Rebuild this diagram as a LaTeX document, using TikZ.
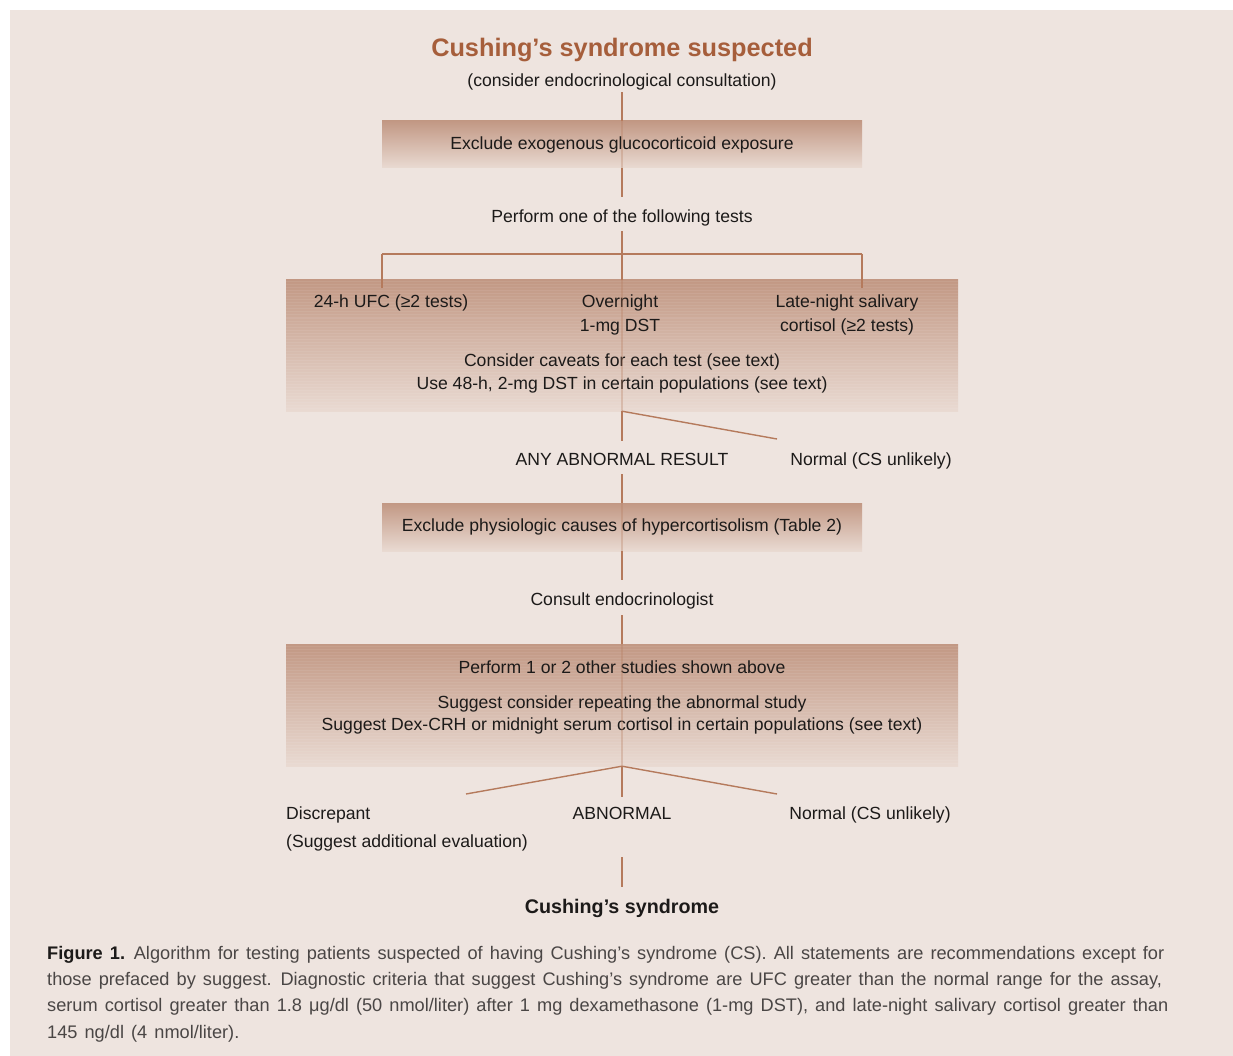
\documentclass[tikz,border=0pt]{standalone}
\usepackage{fontspec}
\setmainfont{Liberation Sans}
\newfontfamily\capfont{Liberation Sans}[WordSpace=1.4]
\definecolor{bg}{HTML}{EEE4DF}
\definecolor{ln}{HTML}{B57A5C}
\definecolor{ttl}{HTML}{A65E3B}
\definecolor{boxtop}{HTML}{C29884}
\definecolor{boxbot}{HTML}{E9DAD2}
\definecolor{txt}{HTML}{1C1A19}
\definecolor{capc}{HTML}{4A4645}
\tikzset{
  lbl/.style={font=\fontsize{17.6}{23}\selectfont, text=txt, inner sep=0pt, align=center},
  gbox/.style={top color=boxtop, bottom color=boxbot, draw=none, inner sep=0pt},
  conn/.style={draw=ln, line width=1.4pt},
  thru/.style={draw=ln, line width=1.2pt, opacity=0.3},
  stripe/.style={draw=white, line width=1pt, opacity=0.07},
}
\begin{document}
\begin{tikzpicture}[x=1pt,y=-1pt]
\useasboundingbox (0,0) rectangle (1233,1056);
\fill[white] (0,0) rectangle (1233,1056);
\fill[bg] (10,10) rectangle (1233,1056);

% boxes
\node[gbox, minimum width=480pt, minimum height=47pt] (b1) at (622,144.5) {};
\node[gbox, minimum width=672pt, minimum height=131pt] (b2) at (622,345.5) {};
\node[gbox, minimum width=480pt, minimum height=48pt] (b3) at (622,527) {};
\node[gbox, minimum width=672pt, minimum height=122pt] (b4) at (622,705) {};
\foreach \yy in {282,285,...,408} {\draw[stripe] (b2.west |- 0,\yy) -- (b2.east |- 0,\yy);}
\foreach \yy in {646,649,...,764} {\draw[stripe] (b4.west |- 0,\yy) -- (b4.east |- 0,\yy);}

% texts
\node[font=\bfseries\fontsize{25.3}{30}\selectfont, text=ttl, inner sep=0pt] (title) at (622,50) {Cushing’s syndrome suspected};
\node[lbl] (sub) at (622,82) {(consider endocrinological consultation)};
\node[lbl] (b1t) at (622,145) {Exclude exogenous glucocorticoid exposure};
\node[lbl] (perf) at (622,218) {Perform one of the following tests};
\node[lbl] (ufc) at (391,303) {24-h UFC (≥2 tests)};
\node[lbl, font=\fontsize{17.6}{24}\selectfont] (dst) at (620,315) {Overnight\\1-mg DST};
\node[lbl, font=\fontsize{17.6}{24}\selectfont] (sal) at (847,315) {Late-night salivary\\cortisol (≥2 tests)};
\node[lbl] (cav) at (622,373.5) {Consider caveats for each test (see text)\\Use 48-h, 2-mg DST in certain populations (see text)};
\node[lbl] (any) at (622,459) {ANY ABNORMAL RESULT};
\node[lbl] (norm1) at (871,461) {Normal (CS unlikely)};
\node[lbl] (b3t) at (622,527) {Exclude physiologic causes of hypercortisolism (Table 2)};
\node[lbl] (cons) at (622,601) {Consult endocrinologist};
\node[lbl] (b4a) at (622,667) {Perform 1 or 2 other studies shown above};
\node[lbl, font=\fontsize{17.6}{22}\selectfont] (b4b) at (622,715) {Suggest consider repeating the abnormal study\\Suggest Dex-CRH or midnight serum cortisol in certain populations (see text)};
\node[lbl, align=left, anchor=west, font=\fontsize{17.6}{28}\selectfont] (disc) at (286,829) {Discrepant\\(Suggest additional evaluation)};
\node[lbl] (abn) at (622,813) {ABNORMAL};
\node[lbl] (norm2) at (870,815) {Normal (CS unlikely)};
\node[font=\bfseries\fontsize{19.7}{24}\selectfont, text=txt, inner sep=0pt] (cs) at (622,908) {Cushing’s syndrome};

% connector coordinates
\coordinate (jl) at (382,254);
\coordinate (jr) at (862,254);
\coordinate (dl) at (382,288);
\coordinate (dr) at (862,288);
\coordinate (n1) at (777,439);
\coordinate (p4) at (466,794);
\coordinate (q4) at (777,794);

% connectors
\draw[conn, shorten <=2pt] (sub.south) -- (b1.north);
\draw[thru] (b1.north) -- (b1.south);
\draw[conn, shorten >=13pt] (b1.south) -- (perf.north);
\draw[conn, shorten <=5pt] (perf.south) -- (b2.north);
\draw[conn] (jl) -- (jr);
\draw[conn] (jl) -- (dl);
\draw[conn] (jr) -- (dr);
\draw[thru] (b2.north) -- (b2.south);
\draw[conn, shorten >=12pt] (b2.south) -- (any.north);
\draw[conn] (b2.south) -- (n1);
\draw[conn, shorten <=9pt] (any.south) -- (b3.north);
\draw[thru] (b3.north) -- (b3.south);
\draw[conn, shorten >=13pt] (b3.south) -- (cons.north);
\draw[conn, shorten <=6pt] (cons.south) -- (b4.north);
\draw[thru] (b4.north) -- (b4.south);
\draw[conn, shorten >=10pt] (b4.south) -- (abn.north);
\draw[conn] (b4.south) -- (p4);
\draw[conn] (b4.south) -- (q4);
\draw[conn, shorten <=38pt, shorten >=12pt] (abn.south) -- (cs.north);

% caption
\node[anchor=north west, inner sep=0pt, align=left, text=capc, font=\capfont\fontsize{18.2}{26.3}\selectfont] (caption) at (47,946)
{{\bfseries\color{txt}Figure 1.} Algorithm for testing patients suspected of having Cushing’s syndrome (CS). All statements are recommendations except for\\
those prefaced by suggest. Diagnostic criteria that suggest Cushing’s syndrome are UFC greater than the normal range for the assay,\\
serum cortisol greater than 1.8 μg/dl (50 nmol/liter) after 1 mg dexamethasone (1-mg DST), and late-night salivary cortisol greater than\\
145 ng/dl (4 nmol/liter).};
\end{tikzpicture}
\end{document}
